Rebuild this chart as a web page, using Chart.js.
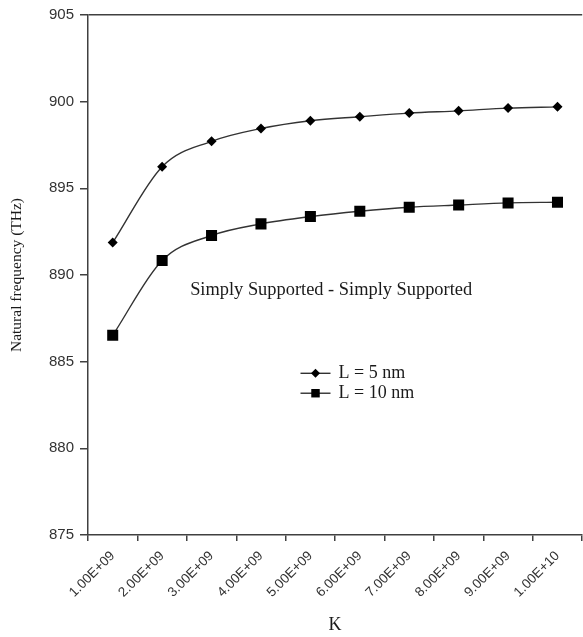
<!DOCTYPE html>
<html><head><meta charset="utf-8">
<script src="https://cdn.jsdelivr.net/npm/chart.js@4/dist/chart.umd.min.js"></script>
<style>html,body{margin:0;padding:0;background:#fff;overflow:hidden}</style>
</head><body>
<canvas id="c" width="590" height="637"></canvas>
<script>
const categories = ['1.00E+09','2.00E+09','3.00E+09','4.00E+09','5.00E+09','6.00E+09','7.00E+09','8.00E+09','9.00E+09','1.00E+10'];
const seriesL5  = [891.87, 896.25, 897.71, 898.45, 898.90, 899.13, 899.34, 899.47, 899.63, 899.70];
const seriesL10 = [886.52, 890.84, 892.28, 892.95, 893.37, 893.68, 893.91, 894.04, 894.16, 894.20];
const seriesLabels = ['L = 5 nm', 'L = 10 nm'];
const yTicks = [875, 880, 885, 890, 895, 900, 905];
const xTitle = 'K';
const yTitle = 'Natural frequency (THz)';
const noteText = 'Simply Supported - Simply Supported';

const AXIS = '#404040';

const annot = {
  id: 'annot',
  afterDatasetsDraw(chart) {
    const {ctx, scales: {x, y}} = chart;
    ctx.save();
    ctx.font = '18.4px "Liberation Serif"';
    ctx.fillStyle = '#1a1a1a';
    ctx.textAlign = 'center';
    ctx.textBaseline = 'middle';
    ctx.fillText(noteText, x.getPixelForValue(4.42), y.getPixelForValue(889.1));
    const legendY = [884.33, 883.18];
    chart.data.datasets.forEach((ds, i) => {
      const yy = y.getPixelForValue(legendY[i]);
      const x0 = x.getPixelForValue(3.8);
      const x1 = x0 + 30;
      ctx.strokeStyle = '#222';
      ctx.lineWidth = 1.3;
      ctx.beginPath(); ctx.moveTo(x0, yy); ctx.lineTo(x1, yy); ctx.stroke();
      ctx.fillStyle = '#000';
      Chart.helpers.drawPoint(ctx, {pointStyle: ds.pointStyle, radius: i === 0 ? 4.5 : 6, borderWidth: 0, rotation: 0}, (x0 + x1) / 2, yy);
      ctx.fillStyle = '#1a1a1a';
      ctx.textAlign = 'left';
      ctx.font = '18px "Liberation Serif"';
      ctx.fillText(ds.label, x1 + 8, yy);
    });
    ctx.restore();
  }
};

new Chart(document.getElementById('c'), {
  type: 'line',
  data: {
    labels: categories,
    datasets: [
      {label: seriesLabels[0], data: seriesL5, borderColor: '#333', borderWidth: 1.4, pointStyle: 'rectRot', pointRadius: 5, pointBackgroundColor: '#000', pointBorderColor: '#000', pointBorderWidth: 0, cubicInterpolationMode: 'monotone'},
      {label: seriesLabels[1], data: seriesL10, borderColor: '#333', borderWidth: 1.4, pointStyle: 'rect', pointRadius: 7.8, pointBackgroundColor: '#000', pointBorderColor: '#000', pointBorderWidth: 0, cubicInterpolationMode: 'monotone'}
    ]
  },
  options: {
    responsive: false,
    animation: false,
    layout: {padding: {top: 14, left: 0, right: 0, bottom: 0}},
    plugins: {legend: {display: false}, tooltip: {enabled: false}},
    scales: {
      x: {
        type: 'category',
        offset: true,
        grid: {offset: true, drawOnChartArea: false, drawTicks: true, tickLength: 6, tickColor: AXIS, lineWidth: 1.5},
        border: {display: true, color: AXIS, width: 1.5},
        ticks: {minRotation: 45, maxRotation: 45, autoSkip: false, color: '#333', font: {family: 'Liberation Sans', size: 13.5}, padding: 7},
        title: {display: true, text: xTitle, color: '#1a1a1a', font: {family: 'Liberation Serif', size: 18}, padding: {top: 4, bottom: 1}},
        afterFit(s) { s.height = 102; }
      },
      y: {
        min: 875, max: 905,
        afterBuildTicks(s) { s.ticks = yTicks.map(v => ({value: v})); },
        grid: {
          drawOnChartArea: true, drawTicks: true, tickLength: 8, tickColor: AXIS, lineWidth: 1.5,
          color: c => (c.tick && c.tick.value === 905) ? AXIS : 'rgba(0,0,0,0)'
        },
        border: {display: true, color: AXIS, width: 1.5},
        ticks: {color: '#333', font: {family: 'Liberation Sans', size: 15}, padding: 6},
        title: {display: true, text: yTitle, color: '#1a1a1a', font: {family: 'Liberation Serif', size: 15.5}, padding: {top: 8, bottom: 0}},
        afterFit(s) { s.width = 88; }
      }
    }
  },
  plugins: [annot]
});
</script>
</body></html>
